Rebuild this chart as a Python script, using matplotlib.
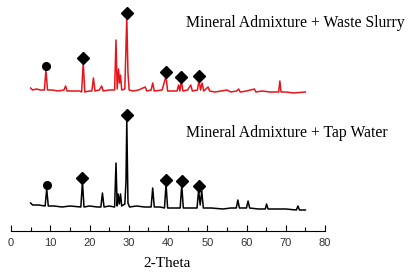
import matplotlib
matplotlib.use("Agg")
import matplotlib.pyplot as plt

# XRD patterns (2-theta, stacked intensity in arbitrary units)
red_x = [5.0, 5.5, 6.5, 7.5, 8.5, 8.9, 9.3, 10.5, 12.0, 13.5, 13.9, 14.3, 16.0, 17.5, 18.0, 18.4, 18.8,
         20.0, 20.6, 21.0, 21.4, 22.5, 23.1, 23.5, 25.0, 26.4, 26.75, 27.05, 27.4, 27.65, 27.9, 28.2,
         29.0, 29.5, 29.8, 30.1, 31.0, 32.5, 34.2, 34.6, 35.7, 36.1, 36.5, 38.5, 39.5, 39.9, 41.0,
         42.3, 42.7, 43.0, 43.4, 43.8, 45.0, 45.8, 46.2, 47.5, 47.9, 48.3, 48.7, 49.1, 50.2, 50.6,
         52.0, 53.5, 55.0, 56.0, 57.5, 58.0, 58.4, 60.0, 62.0, 62.4, 64.0, 66.0, 68.2, 68.5, 68.8,
         70.0, 72.0, 75.0]
red_y = [143, 141, 142, 141, 141, 161, 141, 141, 140, 141, 145, 140, 140, 140, 139, 169, 139,
         140, 140, 153, 140, 141, 145, 140, 141, 141, 191, 142, 162, 148, 156, 141,
         142, 214, 158, 141, 140, 141, 144, 140, 141, 148, 140, 141, 155, 140, 140,
         140, 146, 140, 150, 140, 141, 146, 140, 141, 151, 141, 148, 140, 144, 140,
         139, 140, 141, 139, 140, 142, 139, 140, 142, 139, 140, 139, 139, 150, 139,
         139, 138, 139]

black_x = [5.0, 5.5, 7.0, 8.7, 9.1, 9.5, 11.0, 13.0, 15.0, 17.8, 18.2, 18.6, 20.0, 22.0, 22.9, 23.3,
           23.7, 25.0, 26.4, 26.75, 27.05, 27.3, 27.6, 27.9, 28.2, 29.0, 29.3, 29.5, 29.8, 30.2,
           32.0, 34.0, 35.7, 36.1, 36.5, 38.0, 39.1, 39.5, 39.9, 42.0, 43.1, 43.5, 43.9, 46.0,
           47.4, 47.8, 48.2, 48.6, 49.0, 51.0, 54.0, 56.0, 57.4, 57.8, 58.2, 60.0, 60.4, 60.8,
           63.0, 64.8, 65.1, 65.5, 68.0, 70.0, 72.7, 73.1, 73.5, 75.0]
black_y = [28, 26, 26, 25, 42, 25, 25, 24, 25, 24, 49, 24, 25, 24, 24, 38,
           24, 25, 24, 68, 25, 37, 27, 37, 25, 27, 50, 112, 28, 24,
           25, 24, 24, 43, 24, 24, 23, 47, 23, 23, 23, 46, 23, 23,
           23, 41, 26, 40, 23, 23, 22, 23, 23, 31, 23, 23, 30, 23,
           22, 22, 27, 22, 22, 22, 21, 25, 21, 21]

# phase markers (circle = first phase, diamond = second phase)
red_circle = ([8.9], [165])
red_diamond = ([18.4, 29.5, 39.5, 43.4, 47.9], [173, 218, 159, 154, 155])
black_circle = ([9.1], [46])
black_diamond = ([18.2, 29.5, 39.5, 43.5, 47.8], [53, 116, 51, 50, 45])

labels = ["Mineral Admixture + Waste Slurry", "Mineral Admixture + Tap Water"]
xticks = [0, 10, 20, 30, 40, 50, 60, 70, 80]

fig = plt.figure(figsize=(4.15, 2.8), dpi=100)
ax = fig.add_axes([11 / 415, (280 - 231) / 280, 314 / 415, 226 / 280])

ax.plot(red_x, red_y, color="#e8141b", lw=1.1)
ax.plot(black_x, black_y, color="black", lw=1.1)
ax.plot(*red_circle, "o", color="black", ms=5.5)
ax.plot(*red_diamond, "D", color="black", ms=6)
ax.plot(*black_circle, "o", color="black", ms=5.5)
ax.plot(*black_diamond, "D", color="black", ms=6)

ax.set_xlim(0, 80)
ax.set_ylim(0, 226)
for s in ["top", "left", "right"]:
    ax.spines[s].set_visible(False)
ax.spines["bottom"].set_linewidth(0.8)
ax.set_yticks([])
ax.set_xticks(xticks)
ax.set_xticks(range(5, 80, 10), minor=True)
ax.tick_params(axis="x", direction="in", length=4, width=0.8, labelsize=8, pad=5)
ax.tick_params(axis="x", which="minor", direction="in", length=3, width=0.8)
for t in ax.get_xticklabels():
    t.set_family("Liberation Sans")
    t.set_color("#333333")

ax.set_xlabel("2-Theta", family="Liberation Serif", fontsize=11)
ax.xaxis.set_label_coords(156 / 314, -0.115)

fig.text(186 / 415, 1 - 27 / 280, labels[0], family="Liberation Serif", fontsize=11.3, va="baseline")
fig.text(186 / 415, 1 - 137 / 280, labels[1], family="Liberation Serif", fontsize=11.3, va="baseline")

fig.savefig("out.png", dpi=100)
